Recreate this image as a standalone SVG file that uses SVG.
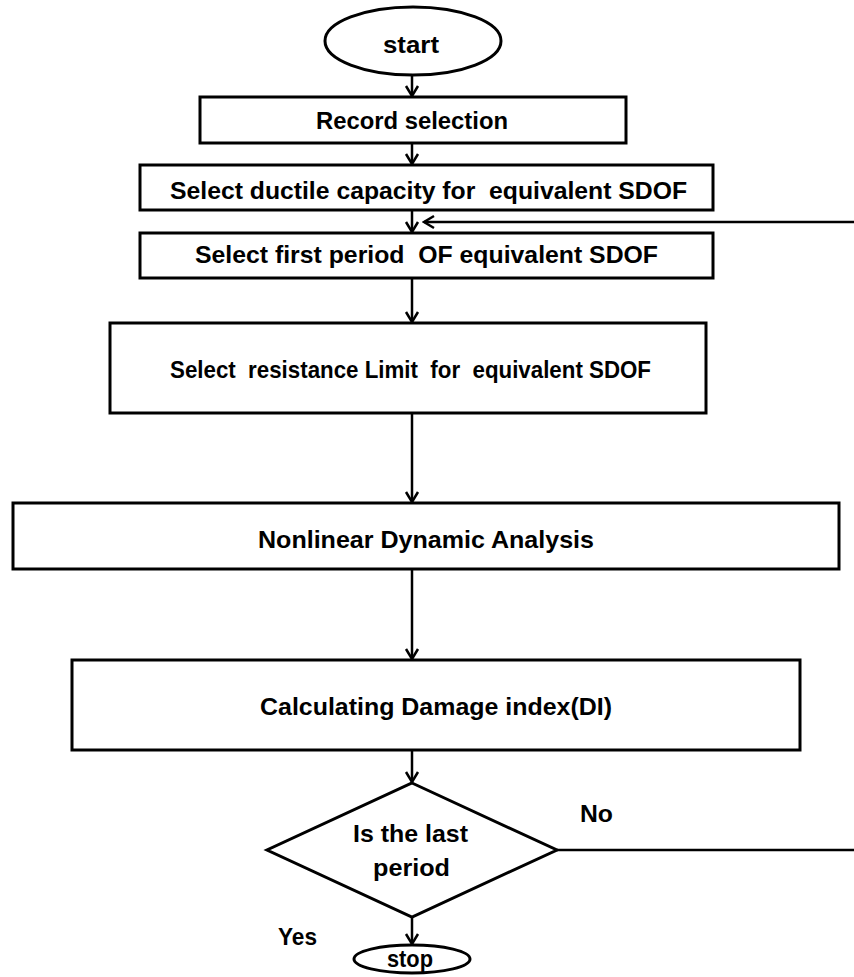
<svg xmlns="http://www.w3.org/2000/svg" width="854" height="977" viewBox="0 0 854 977">
<style>
.box{fill:#fff;stroke:#000;stroke-width:3}
.t{font-family:"Liberation Sans",Arial,sans-serif;font-weight:bold;font-size:24px;fill:#000}
.c{fill:none;stroke:#000;stroke-width:2.5}
</style>
<defs>
<marker id="ah" viewBox="-12 -8 14 16" refX="0" refY="0" markerWidth="14" markerHeight="16" markerUnits="userSpaceOnUse" orient="auto">
<path d="M-10,-6 L0,0 L-10,6" fill="none" stroke="#000" stroke-width="2.5"/>
</marker>
</defs>
<rect width="854" height="977" fill="#fff"/>
<g id="connectors">
<line class="c" x1="412" y1="75" x2="412" y2="96" marker-end="url(#ah)"/>
<line class="c" x1="412" y1="143" x2="412" y2="164" marker-end="url(#ah)"/>
<line class="c" x1="412" y1="210" x2="412" y2="232" marker-end="url(#ah)"/>
<line class="c" x1="854" y1="222" x2="424" y2="222" marker-end="url(#ah)"/>
<line class="c" x1="412" y1="278" x2="412" y2="322" marker-end="url(#ah)"/>
<line class="c" x1="412" y1="413" x2="412" y2="502" marker-end="url(#ah)"/>
<line class="c" x1="412" y1="569" x2="412" y2="659" marker-end="url(#ah)"/>
<line class="c" x1="412" y1="750" x2="412" y2="782" marker-end="url(#ah)"/>
<line class="c" x1="557" y1="850" x2="854" y2="850"/>
<line class="c" x1="412" y1="917" x2="412" y2="944" marker-end="url(#ah)"/>
</g>
<g id="start">
<ellipse class="box" cx="413" cy="41" rx="88" ry="34"/>
<text class="t" x="383" y="53" textLength="56" lengthAdjust="spacingAndGlyphs">start</text>
</g>
<g id="record">
<rect class="box" x="200" y="97" width="426" height="46"/>
<text class="t" x="316" y="129" textLength="192" lengthAdjust="spacingAndGlyphs">Record selection</text>
</g>
<g id="ductile">
<rect class="box" x="140" y="165" width="573" height="45"/>
<text class="t" x="170" y="199" textLength="517" lengthAdjust="spacingAndGlyphs" xml:space="preserve">Select ductile capacity for  equivalent SDOF</text>
</g>
<g id="period">
<rect class="box" x="140" y="233" width="573" height="45"/>
<text class="t" x="195" y="263" textLength="463" lengthAdjust="spacingAndGlyphs" xml:space="preserve">Select first period  OF equivalent SDOF</text>
</g>
<g id="resistance">
<rect class="box" x="110" y="323" width="596" height="90"/>
<text class="t" x="170" y="378" textLength="481" lengthAdjust="spacingAndGlyphs" xml:space="preserve">Select  resistance Limit  for  equivalent SDOF</text>
</g>
<g id="nonlinear">
<rect class="box" x="13" y="503" width="826" height="66"/>
<text class="t" x="258" y="548" textLength="336" lengthAdjust="spacingAndGlyphs">Nonlinear Dynamic Analysis</text>
</g>
<g id="damage">
<rect class="box" x="72" y="660" width="728" height="90"/>
<text class="t" x="260" y="715" textLength="352" lengthAdjust="spacingAndGlyphs">Calculating Damage index(DI)</text>
</g>
<g id="decision">
<polygon class="box" points="412,783 557,850 412,917 267,850"/>
<text class="t" x="353" y="842" textLength="115" lengthAdjust="spacingAndGlyphs">Is the last</text>
<text class="t" x="373" y="876" textLength="77" lengthAdjust="spacingAndGlyphs">period</text>
</g>
<g id="stop">
<ellipse class="box" cx="412" cy="959" rx="58" ry="14"/>
<text class="t" x="387" y="967" textLength="46" lengthAdjust="spacingAndGlyphs">stop</text>
</g>
<g id="labels">
<text class="t" x="580" y="822" textLength="33" lengthAdjust="spacingAndGlyphs">No</text>
<text class="t" x="278" y="945" textLength="39" lengthAdjust="spacingAndGlyphs">Yes</text>
</g>
</svg>
